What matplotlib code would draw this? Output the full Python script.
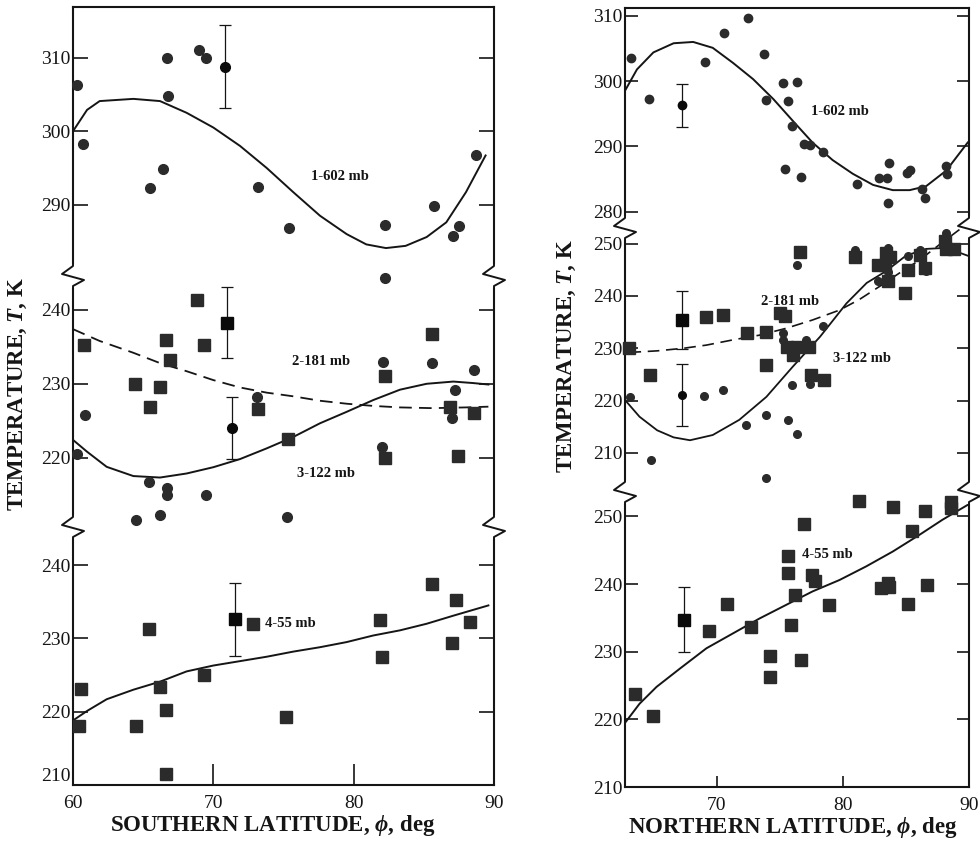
import matplotlib
matplotlib.use("Agg")
import matplotlib.pyplot as plt
from matplotlib.lines import Line2D

plt.rcParams['font.family'] = ['Liberation Serif', 'DejaVu Serif']
plt.rcParams['mathtext.fontset'] = 'custom'
plt.rcParams['mathtext.it'] = 'Liberation Serif:italic:bold'
plt.rcParams['mathtext.rm'] = 'Liberation Serif:bold'
plt.rcParams['mathtext.fallback'] = 'stix'

# ---------------- southern hemisphere (left) ----------------
s602_lat = [60.3, 60.7, 65.5, 66.4, 66.7, 66.8, 69.0, 69.5, 73.2, 75.4, 82.2, 85.7, 87.1, 87.5, 88.7]
s602_T = [306.3, 298.3, 292.3, 294.9, 309.9, 304.8, 311.1, 309.9, 292.4, 286.8, 287.3, 289.8, 285.7, 287.1, 296.7]
s602_err = [70.8, 308.8, 5.6]
s602_fit_lat = [60.0, 61.0, 61.9, 64.3, 66.2, 68.1, 70.0, 71.9, 73.8, 75.7, 77.6, 79.5, 80.9, 82.3, 83.7, 85.2, 86.6, 88.0, 89.4]
s602_fit_T = [300.0, 302.9, 304.1, 304.4, 304.1, 302.5, 300.5, 298.0, 295.0, 291.7, 288.5, 286.0, 284.6, 284.1, 284.4, 285.6, 287.6, 291.7, 296.7]

s181_lat = [60.8, 64.4, 65.5, 66.2, 66.6, 66.9, 68.85, 69.35, 73.2, 75.3, 82.2, 82.2, 85.6, 86.9, 87.4, 88.6]
s181_T = [235.3, 230.0, 226.9, 229.5, 235.9, 233.2, 241.3, 235.3, 226.6, 222.5, 231.0, 219.9, 236.8, 226.8, 220.2, 226.0]
s181_err = [71.0, 238.3, 4.8]
s181_fit_lat = [60.0, 61.9, 64.3, 66.2, 68.1, 70.0, 71.9, 73.8, 75.7, 77.6, 79.5, 81.4, 83.3, 85.6, 88.0, 89.6]
s181_fit_T = [237.4, 235.8, 234.2, 232.8, 231.7, 230.5, 229.5, 228.8, 228.3, 227.7, 227.3, 227.0, 226.8, 226.7, 226.8, 226.9]

s122_lat = [60.3, 60.85, 65.4, 64.5, 66.2, 66.7, 66.7, 69.5, 73.1, 75.25, 82.0, 82.1, 82.2, 85.6, 87.2, 87.0, 88.6]
s122_T = [220.5, 225.8, 216.7, 211.5, 212.2, 215.9, 215.0, 215.0, 228.2, 211.9, 221.5, 232.9, 244.3, 232.8, 229.1, 225.4, 231.8]
s122_err = [71.3, 224.0, 4.2]
s122_fit_lat = [60.0, 61.0, 62.4, 64.3, 66.2, 68.1, 70.0, 71.9, 73.8, 75.7, 77.6, 79.5, 81.4, 83.3, 85.2, 87.1, 88.5, 89.6]
s122_fit_T = [222.4, 220.8, 218.75, 217.5, 217.3, 217.85, 218.7, 219.8, 221.25, 222.8, 224.65, 226.2, 227.8, 229.2, 230.0, 230.3, 230.1, 229.9]

s55_lat = [60.57, 60.45, 64.5, 65.4, 66.2, 66.6, 66.6, 69.3, 72.8, 75.2, 81.85, 82.0, 85.6, 87.26, 87.0, 88.3]
s55_T = [223.1, 218.1, 218.0, 231.3, 223.4, 220.3, 211.5, 225.0, 232.0, 219.3, 232.5, 227.4, 237.4, 235.3, 229.4, 232.2]
s55_err = [71.55, 232.6, 5.0]
s55_fit_lat = [60.0, 61.0, 62.4, 64.3, 66.2, 68.1, 70.0, 71.9, 73.8, 75.7, 77.6, 79.5, 81.4, 83.3, 85.2, 87.1, 89.6]
s55_fit_T = [218.8, 220.1, 221.7, 223.0, 224.1, 225.5, 226.3, 226.9, 227.5, 228.2, 228.8, 229.5, 230.4, 231.1, 232.0, 233.1, 234.5]

# ---------------- northern hemisphere (right) ----------------
n602_lat = [63.2, 64.65, 69.1, 70.6, 72.5, 73.8, 73.9, 75.3, 75.45, 75.7, 76.0, 76.4, 76.7, 76.9, 77.4, 78.4,
            81.1, 82.9, 83.5, 83.7, 83.6, 85.1, 85.3, 86.25, 86.5, 88.2, 88.25]
n602_T = [303.6, 297.3, 302.9, 307.3, 309.6, 304.2, 297.1, 299.7, 286.6, 297.0, 293.1, 299.9, 285.3, 290.3, 290.2, 289.2,
          284.2, 285.1, 285.1, 287.4, 281.4, 285.9, 286.4, 283.5, 282.1, 287.0, 285.8]
n602_err = [67.3, 296.3, 3.3]
n602_fit_lat = [62.8, 63.7, 65.0, 66.6, 68.15, 69.7, 71.3, 72.9, 74.5, 76.05, 77.6, 79.2, 80.8, 82.4, 83.96, 85.3, 86.6, 88.2, 89.9]
n602_fit_T = [298.7, 301.8, 304.4, 305.8, 306.0, 305.1, 302.8, 300.3, 297.25, 293.9, 290.6, 287.9, 285.8, 284.1, 283.3, 283.3, 283.9, 286.3, 290.6]

n181_lat = [63.1, 64.75, 69.2, 70.5, 72.45, 73.9, 73.9, 75.0, 75.45, 75.6, 76.05, 76.4, 77.3, 77.5, 78.5, 76.65,
            81.0, 82.8, 83.35, 83.4, 83.75, 83.6, 84.9, 85.2, 86.1, 86.5, 88.1, 88.8, 88.2]
n181_T = [230.0, 224.8, 236.0, 236.4, 232.9, 233.1, 226.8, 236.7, 236.1, 230.2, 228.7, 230.2, 230.3, 224.9, 223.9, 248.5,
          247.4, 246.0, 246.0, 248.2, 247.5, 242.8, 240.6, 244.9, 247.9, 245.3, 250.6, 249.0, 249.0]
n181_err = [67.3, 235.4, 5.6]
n181_fit_lat = [63.1, 65.3, 67.4, 69.2, 71.3, 73.4, 75.5, 77.6, 79.75, 81.3, 82.9, 84.5, 86.1, 87.65, 89.3]
n181_fit_T = [229.2, 229.5, 230.0, 230.6, 231.6, 232.5, 233.8, 235.4, 237.3, 239.3, 241.8, 244.4, 246.9, 249.8, 252.8]

n122_lat = [63.15, 64.8, 69.0, 70.55, 72.3, 73.9, 73.9, 75.3, 75.3, 75.65, 75.98, 76.4, 76.4, 77.1, 77.4, 78.4,
            81.0, 82.8, 83.6, 83.6, 85.2, 86.15, 86.6, 88.2, 88.1]
n122_T = [220.7, 208.7, 220.9, 222.0, 215.3, 217.2, 205.2, 232.9, 231.5, 216.3, 222.9, 213.5, 246.0, 231.6, 223.1, 234.3,
          248.7, 242.9, 249.2, 244.5, 247.7, 248.8, 244.7, 252.0, 248.8]
n122_err = [67.3, 221.05, 6.0]
n122_fit_lat = [62.75, 63.9, 65.3, 66.6, 67.9, 69.7, 71.8, 73.95, 76.05, 78.2, 80.3, 81.9, 83.4, 85.0, 86.6, 88.2, 89.9]
n122_fit_T = [220.1, 216.9, 214.3, 212.95, 212.4, 213.4, 216.3, 220.7, 226.5, 232.2, 238.6, 242.5, 244.7, 247.7, 249.0, 249.2, 247.7]

n55_lat = [63.55, 65.0, 69.4, 70.85, 72.7, 74.2, 74.2, 75.7, 75.7, 76.2, 75.9, 76.7, 76.9, 77.6, 77.8, 78.9,
           81.25, 83.0, 83.6, 83.65, 84.0, 85.2, 85.5, 86.5, 86.65, 88.6, 88.6]
n55_T = [223.8, 220.5, 233.1, 237.1, 233.6, 229.3, 226.2, 244.2, 241.6, 238.4, 234.0, 228.8, 248.9, 241.3, 240.5, 236.9,
         252.2, 239.4, 240.1, 239.6, 251.4, 237.0, 247.9, 250.8, 239.8, 252.1, 251.2]
n55_err = [67.4, 234.7, 4.8]
n55_fit_lat = [62.8, 63.9, 65.25, 67.1, 69.2, 71.3, 73.4, 75.5, 77.6, 79.75, 81.85, 83.96, 86.1, 87.9, 89.9]
n55_fit_T = [219.6, 222.3, 224.8, 227.5, 230.5, 232.7, 234.9, 236.9, 238.9, 240.6, 242.6, 244.8, 247.3, 249.5, 251.7]

W, H = 980, 842
INK = '#151515'
DOT = '#2b2b2b'

fig = plt.figure(figsize=(W / 100, H / 100), dpi=100)


def frac(x0, x1, ytop, ybot):
    return [x0 / W, 1 - ybot / H, (x1 - x0) / W, (ybot - ytop) / H]


def zigzag(x, y):
    # white-out the spine, then draw the break mark (pixel coordinates)
    fig.add_artist(Line2D([x / W, x / W], [1 - (y - 9) / H, 1 - (y + 9) / H],
                          color='white', lw=4, transform=fig.transFigure, zorder=20))
    xs = [x, x, x - 11, x + 11, x, x]
    ys = [y - 12, y - 10, y - 2, y + 4, y + 10, y + 12]
    fig.add_artist(Line2D([v / W for v in xs], [1 - v / H for v in ys], color=INK, lw=1.4,
                          transform=fig.transFigure, zorder=21))


def make_section(x0, x1, ytop, ybot, xlim, ylim, yticks, pos, ticklen, xticks=None, xticklen=8):
    ax = fig.add_axes(frac(x0, x1, ytop, ybot))
    ax.set_xlim(*xlim)
    ax.set_ylim(*ylim)
    ax.set_yticks(yticks)
    ax.patch.set_alpha(0)
    for s in ax.spines.values():
        s.set_linewidth(1.5)
        s.set_color(INK)
    if pos != 'top':
        ax.spines['top'].set_visible(False)
    if pos != 'bottom':
        ax.spines['bottom'].set_visible(False)
        ax.tick_params(axis='x', bottom=False, top=False, labelbottom=False)
    else:
        ax.set_xticks(xticks)
        ax.tick_params(axis='x', direction='in', bottom=True, top=False, length=xticklen,
                       width=1.2, labelsize=14, pad=7, colors=INK)
    ax.tick_params(axis='y', direction='in', left=True, right=True, length=ticklen,
                   width=1.2, labelsize=14, pad=2, colors=INK)
    return ax


def scatter(ax, lat, T, marker, ms, err):
    ax.plot(lat, T, linestyle='none', marker=marker, ms=ms, color=DOT, clip_on=False, zorder=5)
    ax.errorbar([err[0]], [err[1]], yerr=[err[2]], fmt=marker, ms=ms, color='#0a0a0a',
                ecolor=INK, elinewidth=0.9, capsize=4, capthick=0.9, clip_on=False, zorder=6)


def label(ax, x, y, s, ha='center'):
    ax.text(x, y, s, ha=ha, va='center', fontsize=10.5, fontweight='bold', color=INK)


# left panel
Lx0, Lx1 = 73, 494
s_top = make_section(Lx0, Lx1, 7, 276, (60, 90), (280.3, 316.9), [290, 300, 310], 'top', 11)
s_mid = make_section(Lx0, Lx1, 276, 527, (60, 90), (210.6, 244.6), [220, 230, 240], 'mid', 11)
s_bot = make_section(Lx0, Lx1, 527, 785, (60, 90), (210, 245.2), [210, 220, 230, 240], 'bottom', 11,
                     xticks=[60, 70, 80, 90], xticklen=15)
s_bot.get_yticklabels()[0].set_va('bottom')

s_top.plot(s602_fit_lat, s602_fit_T, color=INK, lw=1.4, zorder=3)
scatter(s_top, s602_lat, s602_T, 'o', 7, s602_err)
label(s_top, 79.0, 293.9, '1-602 mb')

s_mid.plot(s181_fit_lat, s181_fit_T, color=INK, lw=1.3, dashes=(7, 4), zorder=3)
s_mid.plot(s122_fit_lat, s122_fit_T, color=INK, lw=1.4, zorder=3)
scatter(s_mid, s181_lat, s181_T, 's', 9, s181_err)
scatter(s_mid, s122_lat, s122_T, 'o', 7, s122_err)
label(s_mid, 77.7, 233.0, '2-181 mb')
label(s_mid, 78.05, 217.85, '3-122 mb')

s_bot.plot(s55_fit_lat, s55_fit_T, color=INK, lw=1.4, zorder=3)
scatter(s_bot, s55_lat, s55_T, 's', 9, s55_err)
label(s_bot, 73.7, 232.1, '4-55 mb', ha='left')

# right panel
Rx0, Rx1 = 625, 969
n_top = make_section(Rx0, Rx1, 8, 228, (62.75, 90), (277.5, 311.2), [280, 290, 300, 310], 'top', 9)
n_mid = make_section(Rx0, Rx1, 228, 492, (62.75, 90), (202.5, 253.0), [210, 220, 230, 240, 250], 'mid', 9)
n_bot = make_section(Rx0, Rx1, 492, 787, (62.75, 90), (210, 253.6), [210, 220, 230, 240, 250], 'bottom', 9,
                     xticks=[70, 80, 90], xticklen=8)

n_top.plot(n602_fit_lat, n602_fit_T, color=INK, lw=1.4, zorder=3)
scatter(n_top, n602_lat, n602_T, 'o', 6, n602_err)
label(n_top, 79.75, 295.3, '1-602 mb')

n_mid.plot(n181_fit_lat, n181_fit_T, color=INK, lw=1.2, dashes=(7, 4), zorder=3, clip_on=False)
n_mid.plot(n122_fit_lat, n122_fit_T, color=INK, lw=1.3, zorder=3)
scatter(n_mid, n181_lat, n181_T, 's', 8, n181_err)
scatter(n_mid, n122_lat, n122_T, 'o', 5.5, n122_err)
label(n_mid, 75.8, 238.9, '2-181 mb')
label(n_mid, 81.5, 228.0, '3-122 mb')

n_bot.plot(n55_fit_lat, n55_fit_T, color=INK, lw=1.4, zorder=3)
scatter(n_bot, n55_lat, n55_T, 's', 8, n55_err)
label(n_bot, 78.8, 244.3, '4-55 mb')

# axis breaks
for x in (Lx0, Lx1):
    for y in (276, 527):
        zigzag(x, y)
for x in (Rx0, Rx1):
    for y in (228, 492):
        zigzag(x, y)

# axis titles
fig.text(18 / W, 1 - 394 / H, 'TEMPERATURE, $T$, K', rotation=90, ha='center', va='center',
         fontsize=16.5, fontweight='bold', color=INK)
fig.text(567 / W, 1 - 356 / H, 'TEMPERATURE, $T$, K', rotation=90, ha='center', va='center',
         fontsize=16.5, fontweight='bold', color=INK)
fig.text(273 / W, 1 - 826 / H, 'SOUTHERN LATITUDE, $\\phi$, deg', ha='center', va='center',
         fontsize=16.5, fontweight='bold', color=INK)
fig.text(793 / W, 1 - 828 / H, 'NORTHERN LATITUDE, $\\phi$, deg', ha='center', va='center',
         fontsize=16.5, fontweight='bold', color=INK)

fig.savefig('out.png', dpi=100)
